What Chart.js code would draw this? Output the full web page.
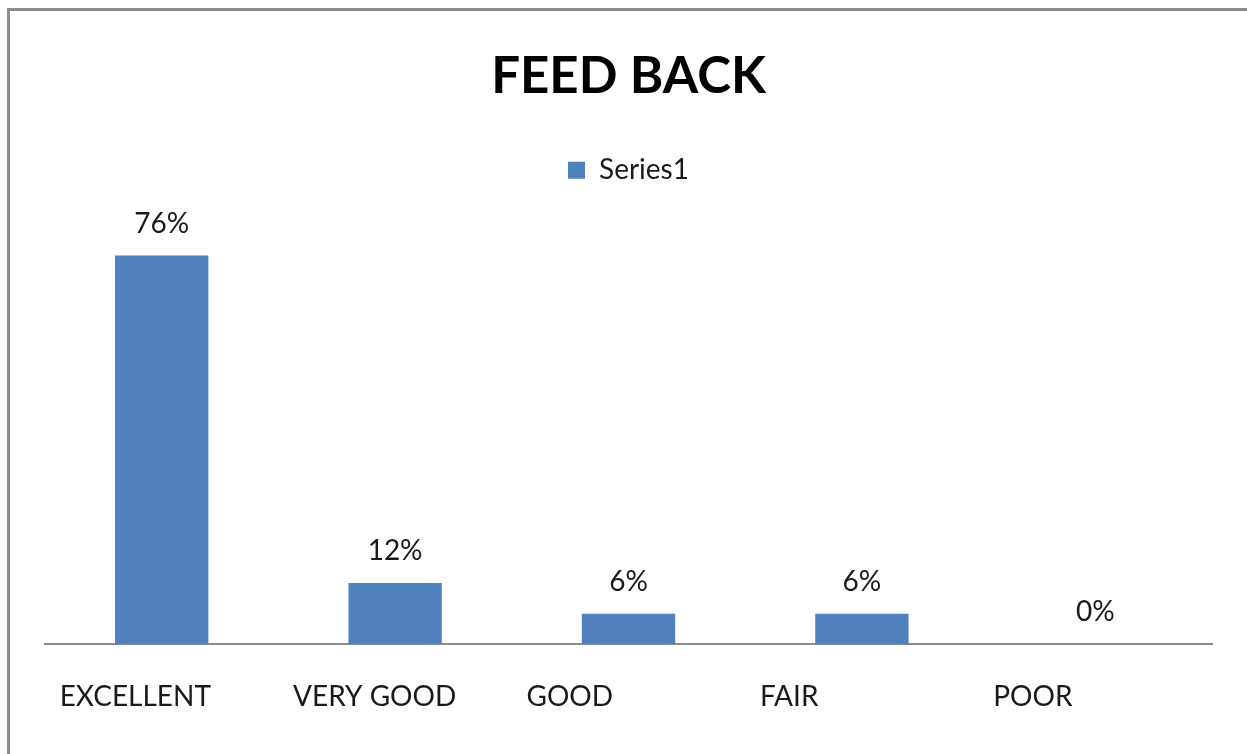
<!DOCTYPE html>
<html>
<head>
<meta charset="utf-8">
<script src="https://cdn.jsdelivr.net/npm/chart.js@4"></script>
<style>
  html, body { margin: 0; padding: 0; background: #fff; overflow: hidden; }
  /* frame of the chart, only left/top edges visible in the picture */
  #frame {
    position: absolute; left: 7px; top: 8px;
    width: 1240px; height: 746px;
    border-left: 3px solid #8c8c8c;
    border-top: 3px solid #8c8c8c;
  }
  #wrap { position: absolute; left: 0; top: 0; width: 1247px; height: 754px; }
</style>
</head>
<body>
<div id="frame"></div>
<div id="wrap"><canvas id="chartFeedback"></canvas></div>
<script>
/* ===========================
   Daten
   =========================== */

const categories = ["EXCELLENT", "VERY GOOD", "GOOD", "FAIR", "POOR"];
const series1 = [76, 12, 6, 6, 0];
const seriesName = "Series1";
const chartTitle = "FEED BACK";

const FONT = "Lato, 'Open Sans', sans-serif";
const BAR_BLUE = "#4f81bd";

/* ---------------------------
   Werte über den Balken
   --------------------------- */

const valueLabels = {
  id: "valueLabels",
  afterDatasetsDraw(chart) {
    const ctx = chart.ctx;
    const meta = chart.getDatasetMeta(0);
    ctx.save();
    ctx.font = "28px " + FONT;
    ctx.fillStyle = "#1a1a1a";
    ctx.textAlign = "center";
    ctx.textBaseline = "alphabetic";
    meta.data.forEach((bar, i) => {
      ctx.fillText(series1[i] + "%", bar.x, bar.y - 23);
    });
    ctx.restore();
  }
};

/* ===========================
   Chart
   =========================== */

new Chart(document.getElementById("chartFeedback"), {
  type: "bar",
  data: {
    labels: categories,
    datasets: [{
      label: seriesName,
      data: series1,
      backgroundColor: BAR_BLUE,
      borderWidth: 0,
      barPercentage: 0.4,
      categoryPercentage: 1.0
    }]
  },
  options: {
    responsive: true,
    maintainAspectRatio: false,
    animation: false,
    layout: { padding: { left: 45, right: 35, top: 46, bottom: 12 } },
    plugins: {
      title: {
        display: true,
        text: chartTitle,
        color: "#000",
        font: { family: FONT, size: 51, weight: "bold" },
        padding: { top: 0, bottom: 21 }
      },
      legend: {
        display: true,
        position: "top",
        labels: {
          color: "#1a1a1a",
          font: { family: FONT, size: 28 },
          boxWidth: 17,
          boxHeight: 17,
          padding: 28
        }
      },
      tooltip: { enabled: false }
    },
    scales: {
      x: {
        grid: { display: false },
        border: { display: true, color: "#8c8c8c", width: 2 },
        ticks: {
          color: "#1a1a1a",
          font: { family: FONT, size: 28 },
          align: "start",
          labelOffset: -102,
          padding: 28,
          maxRotation: 0,
          autoSkip: false
        }
      },
      y: {
        display: false,
        min: 0,
        max: 88
      }
    }
  },
  plugins: [valueLabels]
});
</script>
</body>
</html>
